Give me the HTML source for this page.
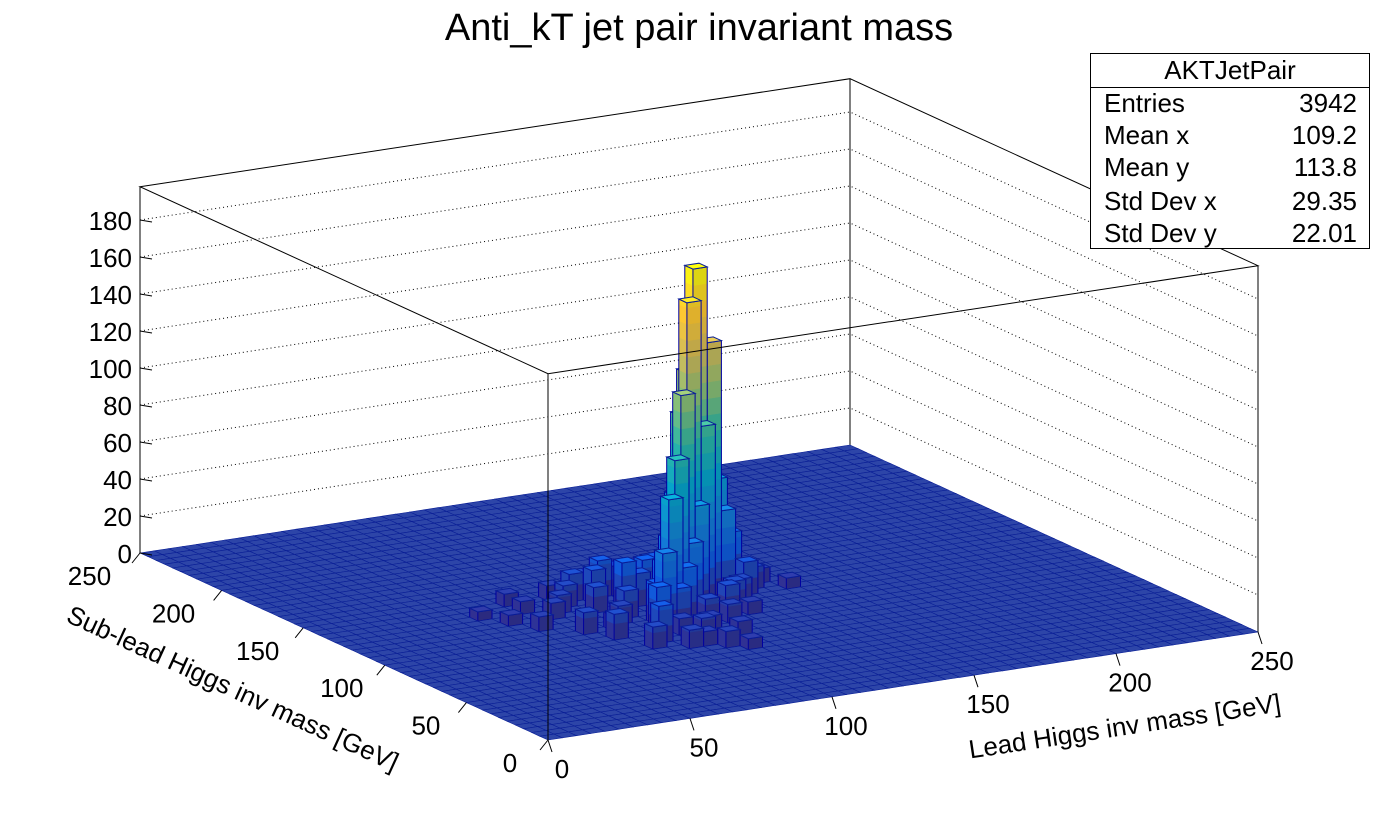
<!DOCTYPE html>
<html><head><meta charset="utf-8"><style>
html,body{margin:0;padding:0;background:#fff;}
svg{display:block;font-family:"Liberation Sans",sans-serif;}
</style></head><body>
<svg id="chart" width="1398" height="821" viewBox="0 0 1398 821" xmlns="http://www.w3.org/2000/svg">
<rect x="0" y="0" width="1398" height="821" fill="#fff"/>
<text x="699" y="40" text-anchor="middle" font-size="38">Anti_kT jet pair invariant mass</text>
<g id="walls"></g>
<g id="bins"></g>
<g id="frame"></g>
<g id="axes"></g>
<text x="1125" y="735" text-anchor="middle" font-size="26" transform="rotate(-8.6 1125 728)">Lead Higgs inv mass [GeV]</text>
<text x="232" y="697" text-anchor="middle" font-size="26" transform="rotate(24.6 232 690)">Sub-lead Higgs inv mass [GeV]</text>
<g>
<rect x="1090.5" y="53.5" width="279" height="195" fill="#fff" stroke="#000" stroke-width="1"/>
<line x1="1090" y1="87.5" x2="1370" y2="87.5" stroke="#000"/>
<text x="1230" y="79" text-anchor="middle" font-size="26">AKTJetPair</text>
<text x="1104" y="112" font-size="26">Entries</text>
<text x="1357" y="112" font-size="26" text-anchor="end">3942</text>
<text x="1104" y="144" font-size="26">Mean x</text>
<text x="1357" y="144" font-size="26" text-anchor="end">109.2</text>
<text x="1104" y="176" font-size="26">Mean y</text>
<text x="1357" y="176" font-size="26" text-anchor="end">113.8</text>
<text x="1104" y="210" font-size="26">Std Dev x</text>
<text x="1357" y="210" font-size="26" text-anchor="end">29.35</text>
<text x="1104" y="242" font-size="26">Std Dev y</text>
<text x="1357" y="242" font-size="26" text-anchor="end">22.01</text>
</g>
</svg>
<script>
const binX = [24,23,22,21,20,25,24,25,23,24,26,25,22,23,21,22,26,24,19,20,21,27,25,26,18,27,26,20,19,
16,17,15,18,17,19,14,18,20,16,13,21,19,20,22,23,24,22,23,24,25,26,27,28,29,21,20,22,30,18,17,16,19,25,
12,11,14,15,17,13,18,16,20,21,19,10];
const binY = [24,23,22,21,20,24,25,25,24,23,25,26,23,22,22,21,24,26,19,21,20,25,27,26,18,26,27,19,20,
26,27,25,26,24,27,24,28,27,28,26,25,24,24,26,27,28,19,18,20,21,22,23,24,25,17,16,15,23,22,21,20,17,19,
22,24,20,18,16,28,14,15,13,12,14,26];
const binValue = [178,163,116,84,66,137,120,90,100,95,60,55,60,55,40,38,45,40,40,30,28,30,28,35,25,20,18,20,22,
12,15,10,18,14,20,9,12,16,8,7,22,25,18,20,15,10,12,10,15,14,12,18,12,8,8,10,8,6,15,10,8,9,7,
8,6,12,14,20,7,10,12,9,6,8,5];
const zTicks = [0,20,40,60,80,100,120,140,160,180];
const xTicks = [0,50,100,150,200,250];
const yTicks = [0,50,100,150,200,250];

const NB=50, XMAX=250, ZS=1.85, ZTOP=198;
const NS="http://www.w3.org/2000/svg";
function P(x,y,z){return [548+x*710/250-y*408/250, 740-x*108/250-y*187/250-z*ZS];}
function el(tag,attrs,parent){const e=document.createElementNS(NS,tag);for(const k in attrs)e.setAttribute(k,attrs[k]);parent.appendChild(e);return e;}
const pal=[[0.2082,0.1664,0.5293],[0.0592,0.3599,0.8684],[0.0780,0.5041,0.8385],[0.0232,0.6419,0.7914],[0.1802,0.7178,0.6425],[0.5301,0.7492,0.4662],[0.8186,0.7328,0.3498],[0.9956,0.7862,0.1968],[0.9764,0.9832,0.0539]];
function col(t,f){t=Math.max(0,Math.min(1,t));const s=t*8,i=Math.min(7,Math.floor(s)),r=s-i;
 const c=pal[i].map((v,k)=>v+(pal[i+1][k]-v)*r);
 return 'rgb('+c.map(v=>Math.round(Math.min(1,v*f)*255)).join(',')+')';}
const vmax=Math.max(...binValue);
const grid={};
for(let k=0;k<binValue.length;k++)grid[binX[k]+','+binY[k]]=binValue[k];
function pts(a){return a.map(p=>p[0].toFixed(1)+','+p[1].toFixed(1)).join(' ');}

const walls=document.getElementById('walls');
for(const z of zTicks){ if(z===0)continue;
 const a=P(0,XMAX,z),b=P(XMAX,XMAX,z),c=P(XMAX,0,z);
 const g=el('polyline',{points:pts([a,b,c]),fill:'none',stroke:'#000','stroke-width':1,'stroke-dasharray':'1,3'},walls);
 
 
}
{const l=el('line',{x1:P(XMAX,XMAX,0)[0],y1:P(XMAX,XMAX,0)[1],x2:P(XMAX,XMAX,ZTOP)[0],y2:P(XMAX,XMAX,ZTOP)[1],stroke:'#000'},walls);
 
 }

const binsG=document.getElementById('bins');
const cells=[];
for(let i=0;i<NB;i++)for(let j=0;j<NB;j++)cells.push([i,j]);
cells.sort((a,b)=>(b[0]+1.74*b[1])-(a[0]+1.74*a[1]));
const w=XMAX/NB, nb=20;
for(const [i,j] of cells){
 const v=grid[i+','+j]||0;
 const x0=i*w,x1=x0+w,y0=j*w,y1=y0+w;
 if(v>0){
  const step=vmax/nb;
  for(let z=0;z<v;z+=step){
   const z2=Math.min(v,z+step), t=(z+z2)/2/vmax;
   const f1=el('polygon',{points:pts([P(x0,y0,z),P(x0,y1,z),P(x0,y1,z2),P(x0,y0,z2)]),fill:col(t,1.0),stroke:col(t,1.0),'stroke-width':0.5},binsG);
   
   
   const f2=el('polygon',{points:pts([P(x0,y0,z),P(x1,y0,z),P(x1,y0,z2),P(x0,y0,z2)]),fill:col(t,0.88),stroke:col(t,0.88),'stroke-width':0.5},binsG);
   
   
  }
  const o=el('polygon',{points:pts([P(x0,y1,0),P(x0,y1,v),P(x0,y0,v),P(x1,y0,v),P(x1,y0,0),P(x0,y0,0)]),fill:'none',stroke:'#0000a0','stroke-width':1},binsG);
  
  
  const e=el('line',{x1:P(x0,y0,0)[0],y1:P(x0,y0,0)[1],x2:P(x0,y0,v)[0],y2:P(x0,y0,v)[1],stroke:'#0000a0','stroke-width':1},binsG);
  
  
 }
 const top=el('polygon',{points:pts([P(x0,y0,v),P(x1,y0,v),P(x1,y1,v),P(x0,y1,v)]),fill:v>0?col(v/vmax,1.1):'#2d45a8',stroke:'#0a1f96','stroke-width':v>0?1:0.6},binsG);
 
 
}

const frame=document.getElementById('frame');
const corners=[P(0,XMAX,ZTOP),P(XMAX,XMAX,ZTOP),P(XMAX,0,ZTOP),P(0,0,ZTOP)];
{const f=el('polygon',{points:pts(corners),fill:'none',stroke:'#000','stroke-width':1},frame);
 
 }
for(const [x,y,n] of [[0,XMAX,'left-edge'],[XMAX,0,'right-edge'],[0,0,'front-edge']]){
 const a=P(x,y,0),b=P(x,y,ZTOP);
 const l=el('line',{x1:a[0],y1:a[1],x2:b[0],y2:b[1],stroke:'#000','stroke-width':1},frame);
 
 
}

const axes=document.getElementById('axes');
for(const z of zTicks){
 const p=P(0,XMAX,z);
 const t=el('line',{x1:p[0],y1:p[1],x2:p[0]+12,y2:p[1]+2,stroke:'#000'},axes);
 
 
 const tx=el('text',{x:p[0]-8,y:p[1]+10,'font-size':26,'text-anchor':'end'},axes);
 tx.textContent=z;
 
 
}
for(const x of xTicks){
 const p=P(x,0,0);
 const t=el('line',{x1:p[0],y1:p[1],x2:p[0]+4,y2:p[1]+12,stroke:'#000'},axes);
 
 
 const tx=el('text',{x:p[0]+14,y:p[1]+38,'font-size':26,'text-anchor':'middle'},axes);
 tx.textContent=x;
 
 
}
for(const y of yTicks){
 const p=P(0,y,0);
 const t=el('line',{x1:p[0],y1:p[1],x2:p[0]-8,y2:p[1]+10,stroke:'#000'},axes);
 
 
 const tx=el('text',{x:p[0]-38-y*0.05,y:p[1]+32,'font-size':26,'text-anchor':'middle'},axes);
 tx.textContent=y;
 
 
}
</script>
</body></html>
